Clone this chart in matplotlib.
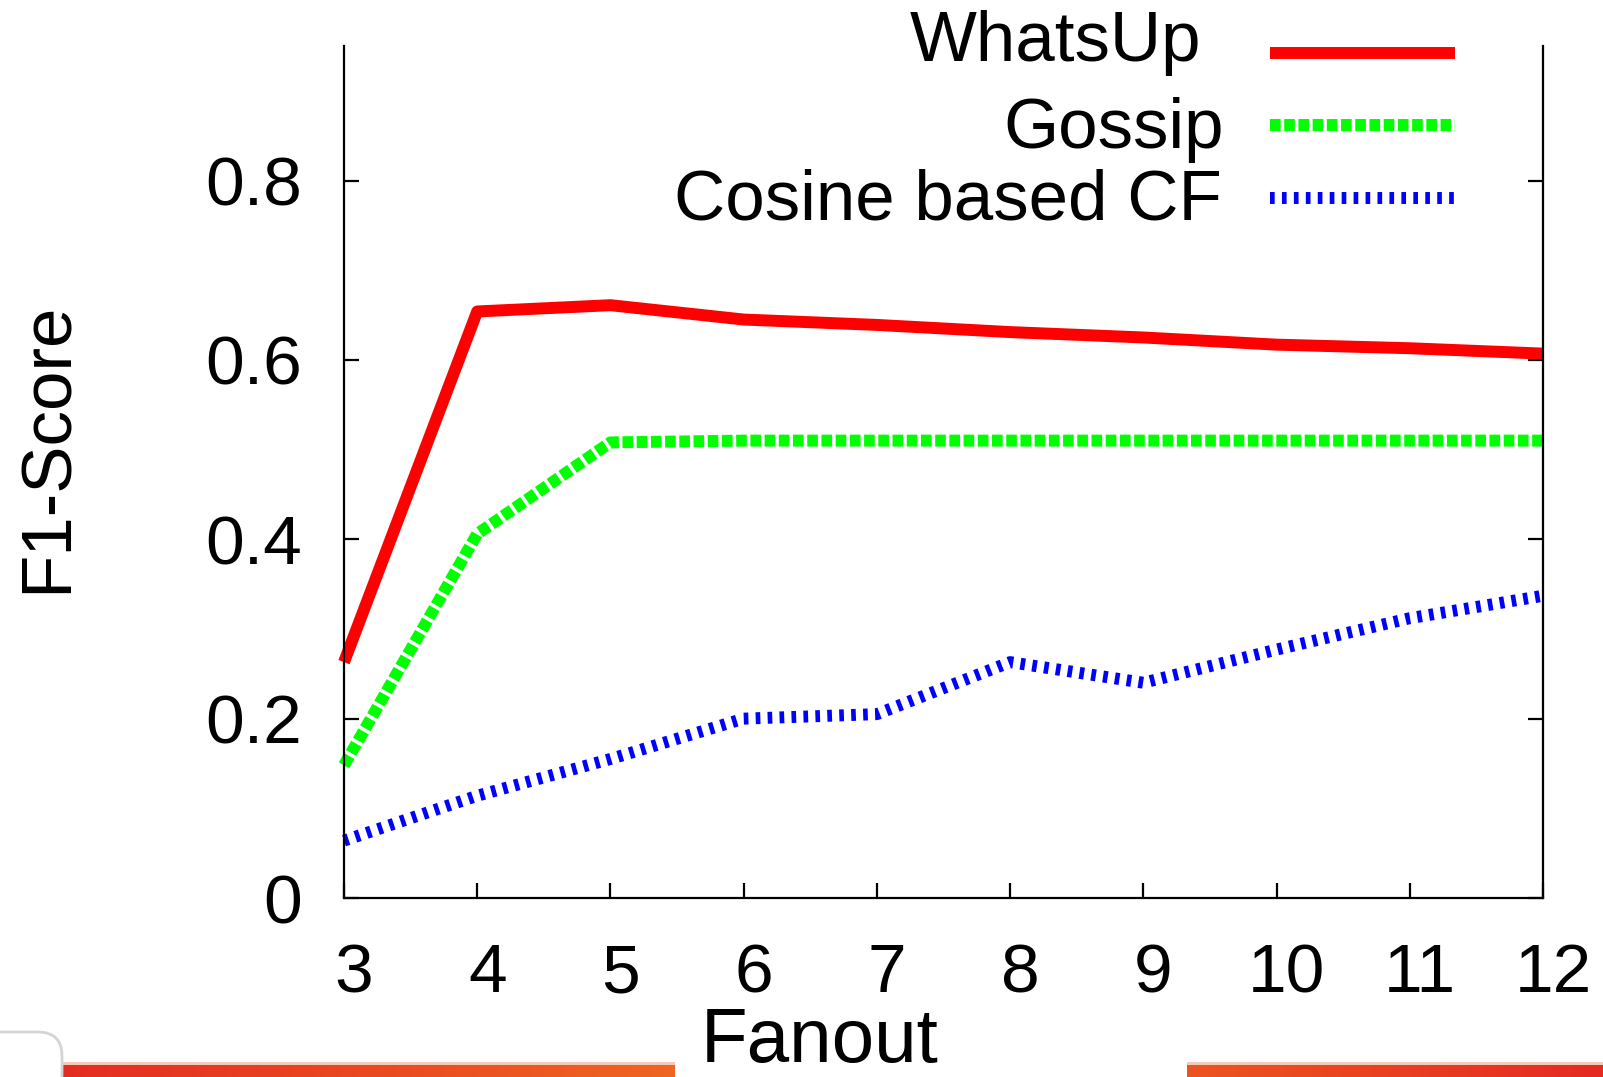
import numpy as np
import matplotlib.pyplot as plt
from matplotlib.lines import Line2D
from matplotlib.patches import FancyBboxPatch
from matplotlib.colors import LinearSegmentedColormap
import matplotlib.transforms as mtransforms

plt.rcParams['font.family'] = ['Liberation Sans', 'DejaVu Sans']

fanout = [3, 4, 5, 6, 7, 8, 9, 10, 11, 12]
whatsup = [0.263, 0.654, 0.661, 0.645, 0.639, 0.631, 0.625, 0.617, 0.613, 0.607]
gossip = [0.148, 0.406, 0.508, 0.510, 0.510, 0.510, 0.510, 0.510, 0.510, 0.510]
cosine_cf = [0.064, 0.114, 0.155, 0.200, 0.205, 0.263, 0.240, 0.277, 0.312, 0.337]

series_names = ['WhatsUp', 'Gossip', 'Cosine based CF']
yticks = [0, 0.2, 0.4, 0.6, 0.8]
ytick_labels = ['0', '0.2', '0.4', '0.6', '0.8']

W, H = 1603, 1077
fig = plt.figure(figsize=(W / 100, H / 100), dpi=100)
ax = fig.add_axes([344 / W, 1 - 898 / H, 1199 / W, 852 / H])

lw = 8.6
styles = [
    dict(color='#ff0000', linestyle='-'),
    dict(color='#00ff00', linestyle=(0, (0.89, 0.30))),
    dict(color='#0000ff', linestyle=(0, (0.39, 0.61))),
]
for ys, st in zip([whatsup, gossip, cosine_cf], styles):
    ax.plot(fanout, ys, lw=lw, solid_capstyle='butt', dash_capstyle='butt',
            clip_on=False, **st)

ax.set_xlim(3, 12)
ax.set_ylim(0, 0.95)
ax.set_xticks(fanout)
ax.set_yticks(yticks)
ax.set_yticklabels(ytick_labels)

for s in ['left', 'right', 'bottom']:
    ax.spines[s].set_linewidth(1.6)
ax.spines['top'].set_visible(False)
ax.tick_params(axis='both', direction='in', length=11, width=1.6,
               labelsize=50)
ax.tick_params(axis='y', right=True, pad=30)
ax.tick_params(axis='x', top=False, pad=32)

# nudge x tick labels a little to the right
shift = mtransforms.ScaledTranslation(10 / 100, 0, fig.dpi_scale_trans)
for lab in ax.get_xticklabels():
    lab.set_transform(lab.get_transform() + shift)

ax.set_ylabel('F1-Score', fontsize=51)
ax.yaxis.set_label_coords((49 - 344) / 1199, (898 - 447) / 852)
ax.yaxis.label.set_va('center')
ax.set_xlabel('Fanout', fontsize=55, va='baseline')
ax.xaxis.set_label_coords((820 - 344) / 1199, (898 - 1062) / 852)

# key in the top right corner
key_rows = [53, 125, 198]
text_base = [61, 148, 220]
text_right = [1201, 1224, 1222]
for name, st, yr, yb, xr in zip(series_names, styles, key_rows, text_base, text_right):
    fig.add_artist(Line2D([1270 / W, 1455 / W], [1 - yr / H, 1 - yr / H],
                          lw=lw, solid_capstyle='butt', dash_capstyle='butt',
                          transform=fig.transFigure, **st))
    fig.text(xr / W, 1 - yb / H, name, fontsize=51, ha='right', va='baseline')

# page footer strip below the plot
cmap_l = LinearSegmentedColormap.from_list('l', ['#e42d22', '#ef6521'])
cmap_r = LinearSegmentedColormap.from_list('r', ['#ec5520', '#e52a22'])
grad = np.linspace(0, 1, 256).reshape(1, -1)
bar_top, bar_bot = 1 - 1065 / H, 0
for x0, x1, cm in [(63, 675, cmap_l), (1187, W, cmap_r)]:
    fa = fig.add_axes([x0 / W, bar_bot, (x1 - x0) / W, bar_top - bar_bot])
    fa.imshow(grad, aspect='auto', cmap=cm)
    fa.axis('off')
    fig.add_artist(plt.Rectangle((x0 / W, bar_top), (x1 - x0) / W, 3 / H,
                                 transform=fig.transFigure, color='#f5c9b8',
                                 lw=0))

box = FancyBboxPatch((-40 / W, -20 / H), 102 / W, 65 / H,
                     boxstyle='round,pad=0,rounding_size=0.015',
                     transform=fig.transFigure, facecolor='white',
                     edgecolor='#d4d4d4', lw=2, mutation_aspect=W / H)
fig.add_artist(box)

fig.savefig('out.png', dpi=100)
